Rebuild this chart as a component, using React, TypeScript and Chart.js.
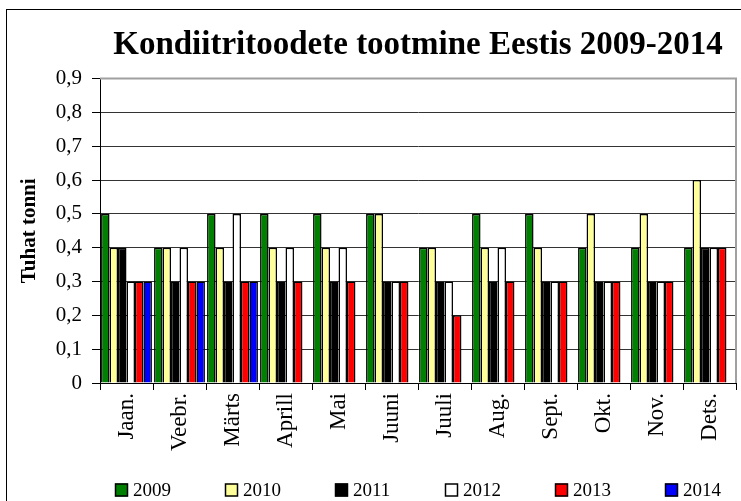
import React, { useEffect, useRef } from 'react';
import { Chart, registerables } from 'chart.js';

Chart.register(...registerables);

const months = ['Jaan.', 'Veebr.', 'Märts', 'Aprill', 'Mai', 'Juuni', 'Juuli', 'Aug.', 'Sept.', 'Okt.', 'Nov.', 'Dets.'];
const years = ['2009', '2010', '2011', '2012', '2013', '2014'];
const v2009 = [0.5, 0.4, 0.5, 0.5, 0.5, 0.5, 0.4, 0.5, 0.5, 0.4, 0.4, 0.4];
const v2010 = [0.4, 0.4, 0.4, 0.4, 0.4, 0.5, 0.4, 0.4, 0.4, 0.5, 0.5, 0.6];
const v2011 = [0.4, 0.3, 0.3, 0.3, 0.3, 0.3, 0.3, 0.3, 0.3, 0.3, 0.3, 0.4];
const v2012 = [0.3, 0.4, 0.5, 0.4, 0.4, 0.3, 0.3, 0.4, 0.3, 0.3, 0.3, 0.4];
const v2013 = [0.3, 0.3, 0.3, 0.3, 0.3, 0.3, 0.2, 0.3, 0.3, 0.3, 0.3, 0.4];
const v2014 = [0.3, 0.3, 0.3, null, null, null, null, null, null, null, null, null];
const seriesValues = [v2009, v2010, v2011, v2012, v2013, v2014];
const seriesColors = ['#008000', '#FFFF99', '#000000', '#FFFFFF', '#FF0000', '#0000FF'];
const yMin = 0;
const yMax = 0.9;
const yStep = 0.1;
const titleText = 'Kondiitritoodete tootmine Eestis 2009-2014';
const yTitleText = 'Tuhat tonni';

const SERIF = "'Liberation Serif', 'Times New Roman', serif";

const framePlugin = {
  id: 'frame',
  beforeDraw(chart: any) {
    const { ctx, width, height } = chart;
    ctx.save();
    ctx.fillStyle = '#ffffff';
    ctx.fillRect(0, 0, width, height);
    ctx.strokeStyle = '#000000';
    ctx.lineWidth = 1;
    ctx.strokeRect(6.5, 9.5, width + 20, height + 20);
    ctx.restore();
  },
  beforeDatasetsDraw(chart: any) {
    const { ctx, chartArea } = chart;
    ctx.save();
    ctx.strokeStyle = '#a0a0a0';
    ctx.lineWidth = 2;
    ctx.beginPath();
    ctx.moveTo(chartArea.left, chartArea.top);
    ctx.lineTo(chartArea.right, chartArea.top);
    ctx.lineTo(chartArea.right, chartArea.bottom);
    ctx.stroke();
    ctx.restore();
  },
};

const legendPlugin = {
  id: 'bottomLegend',
  afterDraw(chart: any) {
    const { ctx, chartArea } = chart;
    const ds = chart.data.datasets;
    const step = 110;
    const box = 13;
    ctx.save();
    ctx.font = `19px ${SERIF}`;
    const lastW = box + 5 + ctx.measureText(ds[ds.length - 1].label).width;
    const total = step * (ds.length - 1) + lastW;
    const startX = Math.round((chartArea.left + chartArea.right) / 2 - total / 2);
    const cy = 490;
    ds.forEach((d: any, i: number) => {
      const x = startX + i * step;
      ctx.fillStyle = d.backgroundColor;
      ctx.fillRect(x, cy - box / 2, box, box);
      ctx.strokeStyle = '#000000';
      ctx.lineWidth = 1.5;
      ctx.strokeRect(x + 0.5, cy - box / 2 + 0.5, box - 1, box - 1);
      ctx.fillStyle = '#000000';
      ctx.textBaseline = 'middle';
      ctx.textAlign = 'left';
      ctx.fillText(d.label, x + box + 5, cy + 1);
    });
    ctx.restore();
  },
};

export default function App() {
  const ref = useRef<HTMLCanvasElement | null>(null);
  useEffect(() => {
    if (!ref.current) return;
    const chart = new Chart(ref.current, {
      type: 'bar',
      data: {
        labels: months,
        datasets: years.map((y, i) => ({
          label: y,
          data: seriesValues[i],
          backgroundColor: seriesColors[i],
          borderColor: '#000000',
          borderWidth: 1.5,
          barPercentage: 1,
          categoryPercentage: 0.96,
        })),
      },
      options: {
        responsive: false,
        animation: false,
        layout: { padding: { top: 10, left: 8, right: 5, bottom: 23 } },
        plugins: {
          legend: { display: false },
          tooltip: { enabled: false },
          title: {
            display: true,
            text: titleText,
            fullSize: false,
            color: '#000',
            font: { family: SERIF, size: 33, weight: 'bold' },
            padding: { top: 16, bottom: 13 },
          },
        },
        scales: {
          x: {
            grid: { drawOnChartArea: false, drawTicks: true, tickLength: 7, tickColor: '#000', offset: true },
            border: { color: '#000', width: 1 },
            ticks: {
              color: '#000',
              maxRotation: 90,
              minRotation: 90,
              autoSkip: false,
              padding: 3,
              font: { family: SERIF, size: 23 },
            },
            afterFit(scale: any) {
              scale.height = 95;
            },
          },
          y: {
            min: yMin,
            max: yMax,
            ticks: {
              stepSize: yStep,
              color: '#000',
              padding: 10,
              font: { family: SERIF, size: 21 },
              callback: (v: any) => (Number(v) === 0 ? '0' : Number(v).toFixed(1).replace('.', ',')),
            },
            grid: {
              color: (c: any) => (c.tick && c.tick.value >= yMax - 1e-9 ? 'rgba(0,0,0,0)' : '#333333'),
              tickColor: '#000',
              tickLength: 8,
            },
            border: { color: '#000', width: 1 },
            title: {
              display: true,
              text: yTitleText,
              color: '#000',
              font: { family: SERIF, size: 21, weight: 'bold' },
              padding: { top: 9, bottom: 0 },
            },
            afterFit(scale: any) {
              scale.width = 92;
            },
          },
        },
      },
      plugins: [framePlugin, legendPlugin],
    });
    return () => chart.destroy();
  }, []);
  return (
    <div style={{ position: 'fixed', left: 0, top: 0, width: 741, height: 501, overflow: 'hidden', background: '#fff' }}>
      <canvas ref={ref} width={741} height={501} style={{ display: 'block', width: 741, height: 501 }} />
    </div>
  );
}
